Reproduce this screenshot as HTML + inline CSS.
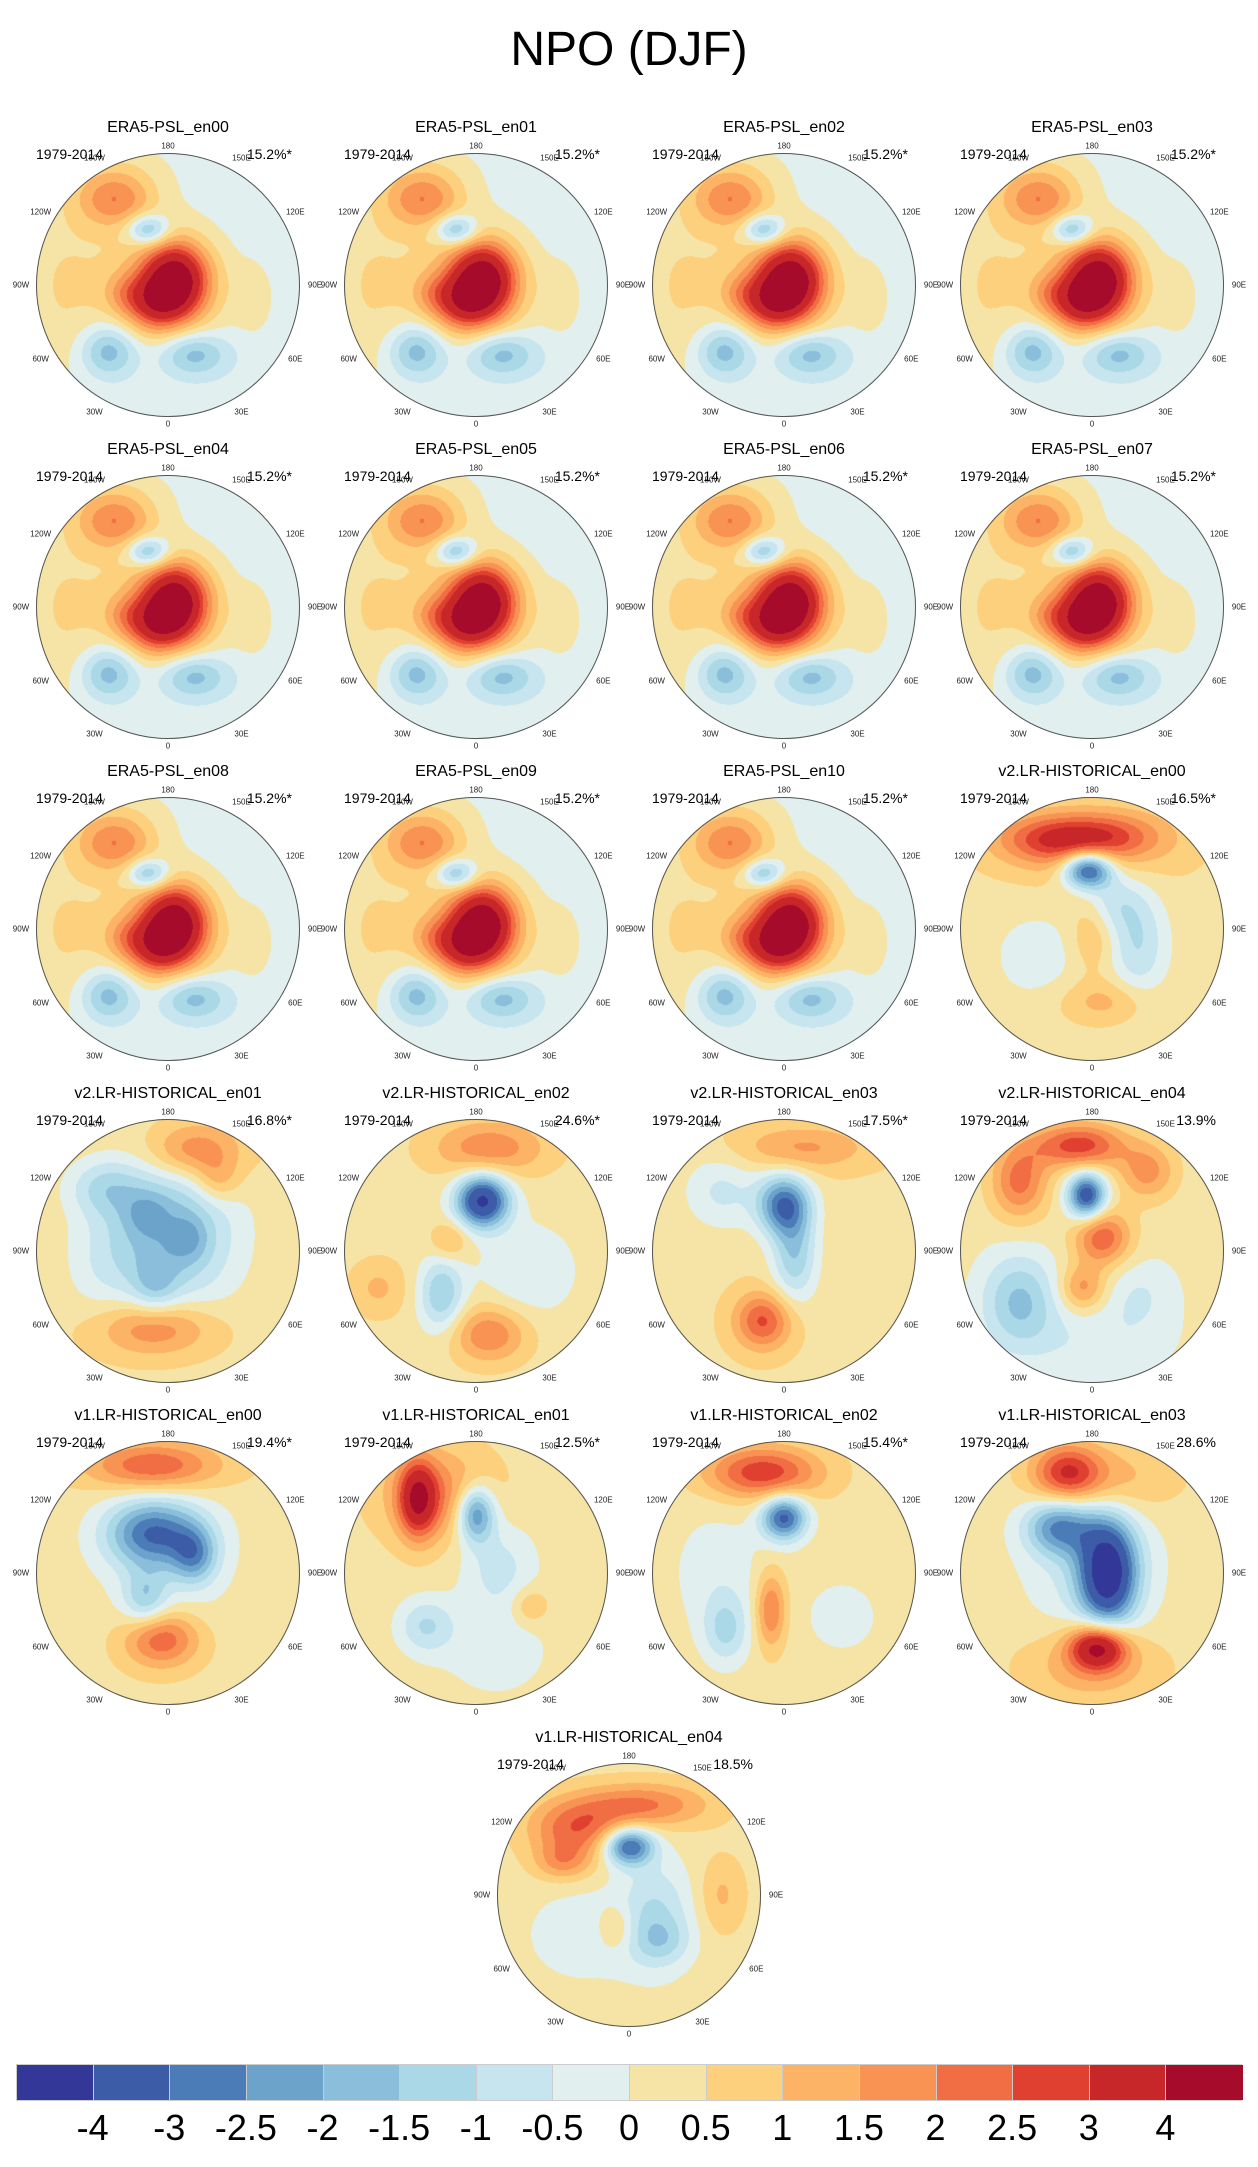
<!DOCTYPE html>
<html><head><meta charset="utf-8">
<style>
body{margin:0;background:#fff;width:1258px;height:2167px;position:relative;overflow:hidden;font-family:"Liberation Sans",sans-serif;color:#000}
.abs{position:absolute;white-space:nowrap}
#title{left:0;width:1258px;text-align:center;top:22px;font-size:48px;line-height:56px}
.ptitle{font-size:16px;line-height:18px;transform:translateX(-50%)}
.yr{font-size:14px;line-height:16px}
.pct{font-size:14px;line-height:16px;transform:translateX(-100%)}
.lon{font-size:8px;line-height:9px;color:#222;transform:translate(-50%,-50%)}
canvas{position:absolute}
.ring{position:absolute;border:1px solid #555;border-radius:50%;box-sizing:border-box}
.cbbox{position:absolute;top:2065px;height:35px;border-left:1px solid #ccc}
.cblab{position:absolute;top:2107px;font-size:36px;line-height:42px;transform:translateX(-50%)}
</style></head>
<body>
<div id="title" class="abs">NPO (DJF)</div>
<div id="root"></div>
<script>
// Panel metadata
const panelTitles = ["ERA5-PSL_en00","ERA5-PSL_en01","ERA5-PSL_en02","ERA5-PSL_en03","ERA5-PSL_en04","ERA5-PSL_en05","ERA5-PSL_en06","ERA5-PSL_en07","ERA5-PSL_en08","ERA5-PSL_en09","ERA5-PSL_en10","v2.LR-HISTORICAL_en00","v2.LR-HISTORICAL_en01","v2.LR-HISTORICAL_en02","v2.LR-HISTORICAL_en03","v2.LR-HISTORICAL_en04","v1.LR-HISTORICAL_en00","v1.LR-HISTORICAL_en01","v1.LR-HISTORICAL_en02","v1.LR-HISTORICAL_en03","v1.LR-HISTORICAL_en04"];
const panelPcts = ["15.2%*","15.2%*","15.2%*","15.2%*","15.2%*","15.2%*","15.2%*","15.2%*","15.2%*","15.2%*","15.2%*","16.5%*","16.8%*","24.6%*","17.5%*","13.9%","19.4%*","12.5%*","15.4%*","28.6%","18.5%"];
const periodLabel = "1979-2014";
// Contour levels and colours
const levels = [-4,-3,-2.5,-2,-1.5,-1,-0.5,0,0.5,1,1.5,2,2.5,3,4];
const levelLabels = ["-4","-3","-2.5","-2","-1.5","-1","-0.5","0","0.5","1","1.5","2","2.5","3","4"];
const colors = ["#333797","#3d5ca8","#4c7cb8","#6ca3cb","#8abedb","#aad8e6","#c6e5ef","#e1f0ef","#f5e4a6","#fdd07e","#fcb366","#f89353","#f16d43","#e04030","#c8272a","#a60b2b"];
// Field anomaly centres: [x, y, sx, sy, amplitude] in unit-disk coords; first value = background
const era5Field = [-0.3,
 [0.06,-0.05,0.16,0.18,3.4],[-0.1,0.13,0.16,0.14,2.0],[0,0.02,0.29,0.3,2.0],[-0.34,0.06,0.1,0.1,0.6],
 [-0.4,-0.64,0.2,0.15,1.8],[-0.15,-0.42,0.11,0.08,-2.0],[-0.45,0.5,0.15,0.14,-1.8],[0.19,0.52,0.18,0.12,-1.7],
 [-0.8,0,0.3,0.6,0.8],[0.65,0.1,0.1,0.18,0.6],[-0.35,-0.85,0.3,0.18,0.5]];
const v2en00 = [0.3,[-0.3,-0.68,0.3,0.13,2.1],[0.15,-0.7,0.3,0.13,1.6],[0,-0.6,0.55,0.25,0.6],[-0.03,-0.45,0.13,0.1,-4],
 [0.35,0.1,0.15,0.3,-1.3],[0.15,-0.2,0.15,0.15,-1],[0,0.05,0.12,0.2,0.8],[0.1,0.55,0.25,0.12,0.9],[-0.4,0.2,0.25,0.25,-0.6]];
const v2en01 = [0.4,[0.01,-0.13,0.35,0.4,-2.2],[0.16,-0.09,0.1,0.12,-0.8],[-0.17,-0.28,0.12,0.12,-0.8],[-0.1,0.28,0.12,0.15,-1],
 [-0.48,-0.48,0.2,0.15,-1.2],[0.2,-0.76,0.25,0.15,1.8],[0.38,-0.53,0.12,0.12,1.0],[-0.1,0.58,0.3,0.15,1.8],[-0.5,0.1,0.2,0.3,-0.5]];
const v2en02 = [0.3,[0.05,-0.38,0.14,0.14,-4.5],[0.1,-0.78,0.3,0.15,1.6],[-0.2,-0.08,0.1,0.1,1.0],[-0.26,0.33,0.12,0.2,-1.8],
 [0.4,0.15,0.25,0.25,-0.8],[0.1,0.63,0.2,0.15,1.7],[-0.74,0.28,0.15,0.15,0.8]];
const v2en03 = [0.4,[0,-0.35,0.14,0.16,-3.2],[0.08,0.03,0.12,0.25,-1.8],[-0.47,-0.45,0.2,0.2,-1],[0.14,-0.78,0.35,0.12,1.2],[-0.16,0.53,0.15,0.15,2.2]];
const v2en04 = [0.2,[-0.1,-0.8,0.25,0.12,2.6],[-0.55,-0.53,0.15,0.2,2.0],[0.42,-0.6,0.15,0.15,1.5],[-0.04,-0.42,0.1,0.12,-3.8],
 [0.08,-0.1,0.15,0.15,2.2],[-0.07,0.28,0.12,0.12,1.5],[-0.55,0.38,0.2,0.25,-1.8],[0.36,0.33,0.2,0.2,-0.7],[0,0.7,0.4,0.2,-0.6]];
const v1en00 = [0.4,[-0.11,-0.81,0.35,0.13,2.2],[-0.11,-0.3,0.25,0.18,-3.0],[0.2,-0.13,0.12,0.15,-2],[-0.17,0.2,0.12,0.15,-1.5],
 [0,-0.1,0.45,0.45,-0.6],[-0.05,0.5,0.2,0.15,2.2]];
const v1en01 = [0.3,[-0.44,-0.56,0.1,0.2,3.0],[-0.3,-0.6,0.3,0.25,1.5],[0,-0.45,0.1,0.15,-3],[0.17,-0.05,0.2,0.25,-1],
 [-0.38,0.4,0.15,0.15,-1.3],[0.15,0.6,0.3,0.25,-0.6],[0.41,0.25,0.1,0.1,0.9]];
const v1en02 = [0.3,[-0.16,-0.76,0.3,0.14,2.6],[0,-0.42,0.12,0.12,-3.5],[-0.5,0,0.25,0.35,-0.6],[-0.44,0.43,0.12,0.18,-1.3],
 [-0.1,0.28,0.08,0.2,1.8],[0.44,0.33,0.2,0.2,-0.6]];
const v1en03 = [0.3,[-0.19,-0.76,0.18,0.15,2.4],[0.1,-0.7,0.35,0.2,1.2],[0.12,0,0.15,0.28,-4.5],[-0.25,-0.35,0.18,0.15,-2.5],
 [0,-0.1,0.35,0.45,-1],[0.05,0.56,0.15,0.12,3.8],[0,0.7,0.35,0.2,1.2]];
const v1en04 = [0.3,[-0.4,-0.5,0.25,0.15,2.0],[0.1,-0.68,0.35,0.12,1.8],[-0.5,-0.25,0.15,0.1,1.3],[0,-0.37,0.13,0.1,-3.5],
 [0.2,0.15,0.2,0.3,-1.3],[0.25,0.35,0.15,0.12,-0.8],[-0.35,0.3,0.3,0.25,-0.7],[-0.1,0.25,0.1,0.12,1.0],[0.7,0,0.12,0.2,0.8]];
const panelFields = [era5Field,era5Field,era5Field,era5Field,era5Field,era5Field,era5Field,era5Field,era5Field,era5Field,era5Field,
 v2en00,v2en01,v2en02,v2en03,v2en04,v1en00,v1en01,v1en02,v1en03,v1en04];
const lonLabels = ["180","150E","120E","90E","60E","30E","0","30W","60W","90W","120W","150W"];

const R = 132;
const root = document.getElementById('root');
function hex(c){return [parseInt(c.slice(1,3),16),parseInt(c.slice(3,5),16),parseInt(c.slice(5,7),16)];}
const rgb = colors.map(hex);
function colorIndex(v){let i=0;while(i<levels.length && v>=levels[i]) i++;return i;}
function mk(tag,cls,txt){const e=document.createElement(tag);if(cls)e.className=cls;if(txt!=null)e.textContent=txt;root.appendChild(e);return e;}

panelTitles.forEach((t,k)=>{
  let cx,cy;
  if(k<20){cx=168+(k%4)*308;cy=285+Math.floor(k/4)*322;}else{cx=629;cy=285+5*322;}
  const ti=mk('div','abs ptitle',t);ti.style.left=cx+'px';ti.style.top=(cy-166)+'px';
  
  
  const yr=mk('div','abs yr',periodLabel);yr.style.left=(cx-132)+'px';yr.style.top=(cy-139)+'px';
  
  
  const pc=mk('div','abs pct',panelPcts[k]);pc.style.left=(cx+124)+'px';pc.style.top=(cy-139)+'px';
  
  
  lonLabels.forEach((l,j)=>{
    const th=j*30*Math.PI/180;const r=(j%6===0)?139:147;
    const e=mk('div','abs lon',l);e.style.left=(cx+r*Math.sin(th))+'px';e.style.top=(cy-r*Math.cos(th))+'px';
    
    
  });
  const cv=document.createElement('canvas');cv.width=2*R;cv.height=2*R;
  cv.style.left=(cx-R)+'px';cv.style.top=(cy-R)+'px';root.appendChild(cv);
  
  
  const ctx=cv.getContext('2d');const img=ctx.createImageData(2*R,2*R);
  const f=panelFields[k];const base=f[0];
  for(let py=0;py<2*R;py++)for(let px=0;px<2*R;px++){
    const x=(px+0.5-R)/R,y=(py+0.5-R)/R;if(x*x+y*y>1)continue;
    let v=base;
    for(let b=1;b<f.length;b++){const g=f[b];const dx=(x-g[0])/g[2],dy=(y-g[1])/g[3];v+=g[4]*Math.exp(-0.5*(dx*dx+dy*dy));}
    const c=rgb[colorIndex(v)];const o=(py*2*R+px)*4;
    img.data[o]=c[0];img.data[o+1]=c[1];img.data[o+2]=c[2];img.data[o+3]=255;
  }
  ctx.putImageData(img,0,0);
  const ring=mk('div','ring');ring.style.left=(cx-R)+'px';ring.style.top=(cy-R)+'px';ring.style.width=(2*R)+'px';ring.style.height=(2*R)+'px';
  
  
});

// Colorbar
const cbX0=16,cbX1=1242,bw=(cbX1-cbX0)/colors.length;
colors.forEach((c,i)=>{
  const b=mk('div','cbbox');b.style.left=(cbX0+i*bw)+'px';b.style.width=bw+'px';b.style.background=c;
  
  
});
const cbLine=mk('div','abs');cbLine.style.cssText='left:16px;top:2064px;width:1226px;height:35px;border-top:1px solid #ccc;border-bottom:1px solid #ccc';


levelLabels.forEach((l,i)=>{
  const e=mk('div','cblab',l);e.style.left=(cbX0+(i+1)*bw)+'px';
  
  
});
</script>
</body></html>
